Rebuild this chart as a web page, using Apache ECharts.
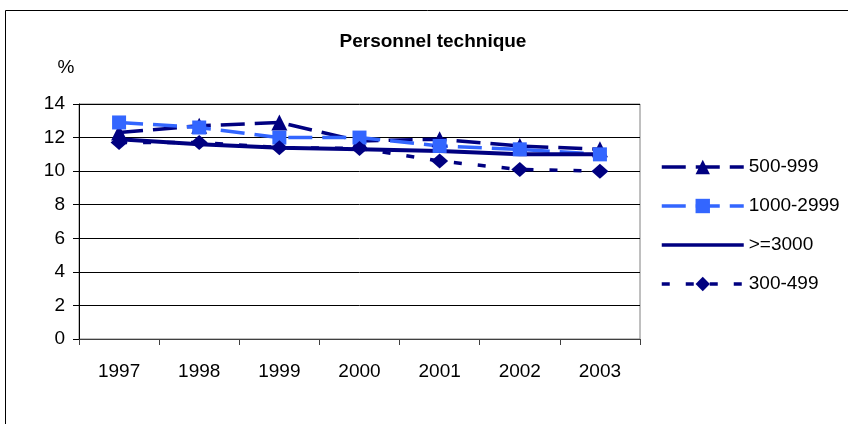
<!DOCTYPE html>
<html>
<head>
<meta charset="utf-8">
<script src="https://cdn.jsdelivr.net/npm/echarts@6/dist/echarts.min.js"></script>
<style>
  html, body { margin: 0; padding: 0; background: #fff; }
  #chart { width: 848px; height: 424px; }
</style>
</head>
<body>
<div id="chart"></div>
<script>
const years = ['1997', '1998', '1999', '2000', '2001', '2002', '2003'];
const s500_999 = [12.3, 12.7, 12.9, 11.8, 11.9, 11.5, 11.3];
const s1000_2999 = [12.9, 12.6, 12.0, 12.0, 11.5, 11.3, 11.0];
const s3000 = [11.9, 11.6, 11.4, 11.3, 11.2, 11.0, 11.0];
const s300_499 = [11.7, 11.7, 11.4, 11.35, 10.6, 10.1, 10.0];

const font = 'Liberation Sans, Arial, sans-serif';
const navy = '#000080';
const blue = '#3366FF';

const chart = echarts.init(document.getElementById('chart'));
chart.setOption({
  animation: false,
  textStyle: { fontFamily: font },
  title: {
    text: 'Personnel technique',
    left: 428,
    top: 27,
    textAlign: 'center',
    textStyle: { fontSize: 19, fontWeight: 'bold', color: '#000', fontFamily: font }
  },
  graphic: [{
    type: 'rect',
    shape: { x: 5.5, y: 10.5, width: 900, height: 500 },
    style: { fill: 'none', stroke: '#000', lineWidth: 1 },
    silent: true
  }],
  grid: {
    left: 79,
    top: 104,
    right: 208,
    bottom: 85,
    show: true,
    borderColor: '#808080',
    borderWidth: 1,
    containLabel: false,
    outerBoundsMode: 'none'
  },
  legend: {
    orient: 'vertical',
    left: 660,
    top: 157,
    padding: 0,
    itemWidth: 82,
    itemHeight: 18,
    itemGap: 19,
    lineStyle: { width: 3.5 },
    textStyle: { fontSize: 19, color: '#000', fontFamily: font, lineHeight: 20 },
    data: [
      '500-999',
      '1000-2999',
      { name: '>=3000', itemStyle: { opacity: 0 } },
      '300-499'
    ]
  },
  xAxis: {
    type: 'category',
    data: years,
    boundaryGap: true,
    axisLine: { lineStyle: { color: '#404040', width: 1 } },
    axisTick: { show: true, alignWithLabel: false, length: 6, lineStyle: { color: '#404040' } },
    axisLabel: { fontSize: 19, color: '#000', margin: 23, fontFamily: font },
    splitLine: { show: false }
  },
  yAxis: {
    type: 'value',
    min: 0,
    max: 14,
    interval: 2,
    name: '%',
    nameLocation: 'end',
    nameGap: 27,
    nameTextStyle: { fontSize: 19, color: '#000', padding: [0, 26, 0, 0], fontFamily: font },
    axisLine: { show: true, lineStyle: { color: '#000', width: 1 } },
    axisTick: { show: true, length: 6, lineStyle: { color: '#000' } },
    axisLabel: { fontSize: 19, color: '#000', margin: 14, fontFamily: font },
    splitLine: { show: true, lineStyle: { color: '#000', width: 1 } }
  },
  series: [
    {
      name: '500-999',
      type: 'line',
      data: s500_999,
      color: navy,
      symbol: 'triangle',
      symbolSize: 16,
      lineStyle: { width: 3.5, type: [24, 10] },
      itemStyle: { color: navy }
    },
    {
      name: '1000-2999',
      type: 'line',
      data: s1000_2999,
      color: blue,
      symbol: 'rect',
      symbolSize: 14,
      lineStyle: { width: 3.5, type: [24, 10] },
      itemStyle: { color: blue }
    },
    {
      name: '>=3000',
      type: 'line',
      data: s3000,
      color: navy,
      symbol: 'none',
      lineStyle: { width: 4, type: 'solid' },
      itemStyle: { color: navy }
    },
    {
      name: '300-499',
      type: 'line',
      data: s300_499,
      color: navy,
      symbol: 'diamond',
      symbolSize: [17, 15],
      lineStyle: { width: 3.5, type: [8, 16] },
      itemStyle: { color: navy }
    }
  ]
});
</script>
</body>
</html>
